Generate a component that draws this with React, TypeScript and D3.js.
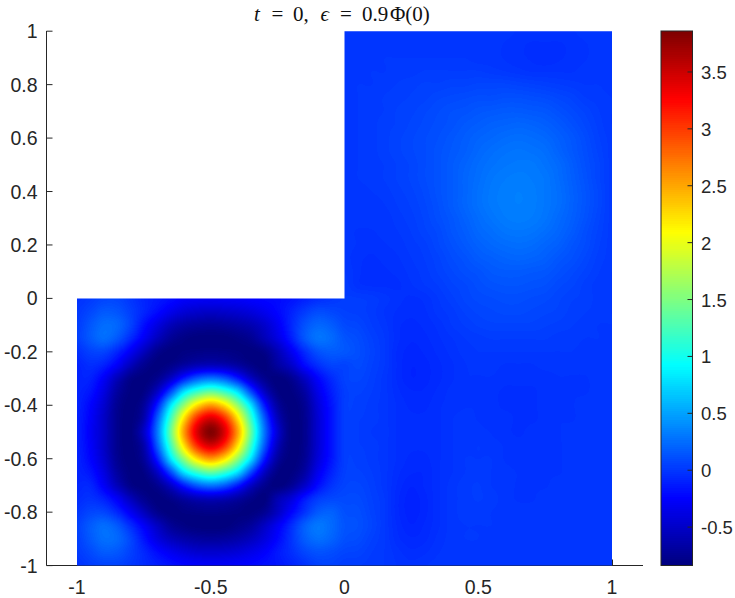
import React, { useMemo } from "react";
import * as d3 from "d3";

const xTicks = [-1, -0.5, 0, 0.5, 1];
const yTicks = [-1, -0.8, -0.6, -0.4, -0.2, 0, 0.2, 0.4, 0.6, 0.8, 1];
const colorTicks = [-0.5, 0, 0.5, 1, 1.5, 2, 2.5, 3, 3.5];
const colorDomain = [-0.833, 3.86];
const jetStops = ["#000080", "#0000ff", "#00ffff", "#ffff00", "#ff0000", "#800000"];
const jetPositions = [0, 0.125, 0.375, 0.625, 0.875, 1];

// y = 1 .. 0.05 (top to bottom), x = 0 .. 1 in steps of 0.05
const upperRightRows = [
  [0, 0, 0, 0, 0, 0, 0, 0, 0, 0, 0, 0, 0, -0.01, -0.01, -0.01, -0.01, -0.01, 0, 0, 0],
  [0, 0, 0, 0, 0, 0, 0, 0, 0, 0, 0, 0, -0.01, -0.02, -0.03, -0.03, -0.03, -0.02, -0.01, 0, 0],
  [0, 0, 0, 0.01, 0.01, 0.01, 0.01, 0.01, 0.01, 0.01, 0, 0, -0.01, -0.02, -0.03, -0.04, -0.03, -0.02, -0.01, 0, 0],
  [0, 0, 0.01, 0.01, 0.02, 0.02, 0.03, 0.03, 0.03, 0.03, 0.03, 0.02, 0.01, 0, -0.01, -0.01, -0.01, -0.01, 0, 0, 0],
  [0, 0.01, 0.01, 0.02, 0.03, 0.04, 0.05, 0.05, 0.06, 0.06, 0.07, 0.07, 0.07, 0.06, 0.05, 0.04, 0.03, 0.02, 0.01, 0.01, 0],
  [0, 0.01, 0.02, 0.03, 0.04, 0.05, 0.06, 0.08, 0.09, 0.1, 0.11, 0.11, 0.12, 0.12, 0.11, 0.1, 0.08, 0.06, 0.03, 0.02, 0.01],
  [0, 0.01, 0.02, 0.03, 0.05, 0.06, 0.08, 0.1, 0.12, 0.13, 0.15, 0.16, 0.17, 0.17, 0.16, 0.15, 0.12, 0.09, 0.06, 0.03, 0.01],
  [0, 0.01, 0.02, 0.04, 0.05, 0.07, 0.09, 0.11, 0.13, 0.16, 0.18, 0.2, 0.21, 0.22, 0.21, 0.19, 0.16, 0.12, 0.08, 0.04, 0.01],
  [0, 0.01, 0.02, 0.04, 0.06, 0.08, 0.1, 0.12, 0.15, 0.18, 0.21, 0.23, 0.25, 0.26, 0.25, 0.23, 0.19, 0.15, 0.1, 0.05, 0.02],
  [0, 0.01, 0.02, 0.04, 0.06, 0.08, 0.1, 0.13, 0.16, 0.19, 0.23, 0.26, 0.28, 0.29, 0.28, 0.26, 0.21, 0.16, 0.11, 0.06, 0.02],
  [0, 0.01, 0.02, 0.03, 0.05, 0.07, 0.1, 0.13, 0.17, 0.21, 0.25, 0.28, 0.3, 0.31, 0.31, 0.28, 0.24, 0.18, 0.12, 0.07, 0.02],
  [0, 0.01, 0.02, 0.03, 0.05, 0.07, 0.1, 0.13, 0.17, 0.22, 0.26, 0.3, 0.32, 0.33, 0.32, 0.3, 0.25, 0.19, 0.13, 0.07, 0.02],
  [0, 0, 0.01, 0.02, 0.04, 0.06, 0.09, 0.13, 0.17, 0.22, 0.27, 0.31, 0.33, 0.34, 0.33, 0.3, 0.26, 0.2, 0.14, 0.08, 0.02],
  [0, 0, 0, 0.01, 0.03, 0.05, 0.08, 0.12, 0.17, 0.22, 0.27, 0.31, 0.33, 0.34, 0.33, 0.3, 0.26, 0.2, 0.14, 0.08, 0.02],
  [0, 0, 0, 0, 0.02, 0.04, 0.07, 0.11, 0.15, 0.2, 0.25, 0.29, 0.32, 0.33, 0.32, 0.29, 0.24, 0.19, 0.13, 0.07, 0.02],
  [0, -0.01, -0.01, 0, 0.01, 0.03, 0.06, 0.09, 0.14, 0.18, 0.23, 0.26, 0.29, 0.3, 0.29, 0.26, 0.22, 0.17, 0.11, 0.06, 0.02],
  [0, -0.01, -0.02, -0.01, 0, 0.02, 0.04, 0.08, 0.12, 0.16, 0.2, 0.23, 0.25, 0.26, 0.25, 0.22, 0.19, 0.14, 0.1, 0.05, 0.02],
  [0, -0.02, -0.03, -0.02, -0.01, 0.01, 0.03, 0.06, 0.1, 0.13, 0.17, 0.19, 0.21, 0.22, 0.21, 0.19, 0.15, 0.12, 0.08, 0.04, 0.02],
  [0.01, -0.02, -0.04, -0.03, -0.02, 0, 0.02, 0.05, 0.08, 0.11, 0.13, 0.16, 0.17, 0.17, 0.16, 0.15, 0.12, 0.09, 0.06, 0.03, 0.01],
  [0.02, -0.02, -0.03, -0.03, -0.03, -0.01, 0.01, 0.03, 0.06, 0.08, 0.11, 0.13, 0.14, 0.14, 0.13, 0.12, 0.09, 0.07, 0.04, 0.02, 0.01],
];

// y = 0 .. -1, x = -1 .. 0 in steps of 0.05
const lowerLeftRows = [
  [-0.02, 0.02, 0.07, 0.07, 0, -0.08, -0.13, -0.19, -0.26, -0.28, -0.29, -0.28, -0.27, -0.24, -0.22, -0.2, -0.16, -0.1, -0.04, 0, 0.03],
  [0.01, 0.08, 0.16, 0.14, 0.04, -0.08, -0.2, -0.33, -0.43, -0.48, -0.5, -0.48, -0.45, -0.4, -0.32, -0.22, -0.1, 0.02, 0.1, 0.08, 0.05],
  [0.03, 0.15, 0.25, 0.22, 0.06, -0.18, -0.38, -0.56, -0.66, -0.7, -0.72, -0.7, -0.66, -0.6, -0.48, -0.3, -0.08, 0.12, 0.22, 0.18, 0.09],
  [0.04, 0.16, 0.25, 0.15, -0.06, -0.3, -0.54, -0.72, -0.8, -0.83, -0.83, -0.83, -0.8, -0.74, -0.58, -0.38, -0.13, 0.14, 0.28, 0.24, 0.14],
  [-0.03, 0.05, 0.06, -0.08, -0.3, -0.55, -0.76, -0.83, -0.81, -0.79, -0.78, -0.79, -0.81, -0.83, -0.78, -0.58, -0.32, -0.06, 0.12, 0.17, 0.15],
  [-0.09, -0.04, -0.1, -0.28, -0.55, -0.75, -0.83, -0.78, -0.67, -0.58, -0.55, -0.58, -0.67, -0.78, -0.83, -0.68, -0.5, -0.22, -0.04, 0.06, 0.06],
  [-0.09, -0.1, -0.28, -0.56, -0.78, -0.83, -0.75, -0.5, -0.12, 0.18, 0.3, 0.18, -0.12, -0.5, -0.75, -0.83, -0.75, -0.52, -0.24, -0.06, 0.05],
  [-0.09, -0.16, -0.38, -0.68, -0.82, -0.8, -0.5, 0.1, 0.8, 1.2, 1.4, 1.2, 0.8, 0.1, -0.5, -0.8, -0.82, -0.67, -0.35, -0.12, 0.03],
  [-0.09, -0.23, -0.46, -0.74, -0.83, -0.7, -0.12, 0.8, 1.6, 2.25, 2.55, 2.25, 1.6, 0.8, -0.12, -0.68, -0.83, -0.74, -0.42, -0.16, 0.03],
  [-0.1, -0.26, -0.5, -0.76, -0.83, -0.62, 0.18, 1.2, 2.25, 3.1, 3.45, 3.1, 2.25, 1.2, 0.18, -0.55, -0.82, -0.76, -0.45, -0.17, 0.03],
  [-0.1, -0.28, -0.5, -0.76, -0.83, -0.5, 0.3, 1.4, 2.55, 3.45, 3.85, 3.45, 2.55, 1.4, 0.3, -0.45, -0.82, -0.76, -0.45, -0.17, 0.03],
  [-0.1, -0.26, -0.5, -0.76, -0.83, -0.62, 0.18, 1.2, 2.25, 3.1, 3.45, 3.1, 2.25, 1.2, 0.18, -0.55, -0.82, -0.76, -0.45, -0.17, 0.03],
  [-0.09, -0.23, -0.46, -0.74, -0.83, -0.7, -0.12, 0.8, 1.6, 2.25, 2.55, 2.25, 1.6, 0.8, -0.12, -0.68, -0.83, -0.74, -0.42, -0.16, 0.03],
  [-0.09, -0.16, -0.38, -0.68, -0.82, -0.8, -0.5, 0.1, 0.8, 1.2, 1.4, 1.2, 0.8, 0.1, -0.5, -0.8, -0.82, -0.67, -0.33, -0.1, 0.04],
  [-0.08, -0.08, -0.28, -0.56, -0.78, -0.83, -0.75, -0.5, -0.12, 0.18, 0.3, 0.18, -0.12, -0.5, -0.75, -0.83, -0.73, -0.5, -0.2, -0.02, 0.06],
  [-0.05, -0.02, -0.1, -0.28, -0.55, -0.75, -0.83, -0.78, -0.67, -0.58, -0.55, -0.58, -0.67, -0.78, -0.83, -0.6, -0.42, -0.15, 0.02, 0.08, 0.09],
  [0, 0.07, 0.07, -0.07, -0.3, -0.55, -0.76, -0.83, -0.81, -0.79, -0.78, -0.79, -0.81, -0.82, -0.74, -0.52, -0.25, -0.02, 0.16, 0.2, 0.12],
  [0.05, 0.17, 0.25, 0.16, -0.05, -0.28, -0.52, -0.72, -0.8, -0.83, -0.83, -0.83, -0.78, -0.7, -0.52, -0.3, -0.06, 0.18, 0.3, 0.24, 0.14],
  [0.04, 0.16, 0.26, 0.23, 0.07, -0.16, -0.38, -0.54, -0.63, -0.68, -0.7, -0.68, -0.63, -0.54, -0.4, -0.22, -0.02, 0.17, 0.26, 0.21, 0.12],
  [0.02, 0.09, 0.17, 0.15, 0.05, -0.07, -0.2, -0.31, -0.4, -0.46, -0.47, -0.46, -0.42, -0.35, -0.26, -0.14, -0.04, 0.07, 0.13, 0.11, 0.07],
  [-0.02, 0.03, 0.06, 0.06, 0.01, -0.05, -0.11, -0.17, -0.22, -0.25, -0.27, -0.27, -0.25, -0.22, -0.18, -0.15, -0.09, -0.02, 0.05, 0.06, 0.03],
];

// y = 0 .. -1, x = 0.05 .. 1 in steps of 0.05
const lowerRightRows = [
  [0.03, 0.02, 0, -0.02, -0.03, -0.02, 0.01, 0.04, 0.07, 0.09, 0.1, 0.11, 0.11, 0.1, 0.09, 0.07, 0.05, 0.04, 0.02, 0.01],
  [0.04, 0.02, -0.01, -0.03, -0.04, -0.03, 0, 0.02, 0.05, 0.07, 0.08, 0.09, 0.09, 0.08, 0.07, 0.06, 0.04, 0.03, 0.02, 0.01],
  [0.07, 0.03, 0, -0.04, -0.05, -0.04, -0.02, 0.01, 0.03, 0.05, 0.06, 0.06, 0.06, 0.06, 0.05, 0.04, 0.03, 0.02, 0.01, 0.01],
  [0.1, 0.05, 0.01, -0.04, -0.06, -0.05, -0.03, -0.01, 0.01, 0.02, 0.03, 0.03, 0.03, 0.03, 0.03, 0.02, 0.02, 0.01, 0.01, 0],
  [0.11, 0.06, 0.01, -0.05, -0.07, -0.06, -0.04, -0.02, 0, 0.01, 0.01, 0.01, 0.01, 0.01, 0.01, 0.01, 0.01, 0, 0, 0],
  [0.09, 0.05, 0.01, -0.05, -0.08, -0.07, -0.05, -0.03, -0.01, 0, 0, -0.01, -0.01, -0.01, 0, 0, 0, 0, 0, 0],
  [0.07, 0.04, 0, -0.05, -0.08, -0.07, -0.05, -0.03, -0.01, -0.01, -0.01, -0.02, -0.02, -0.02, -0.02, -0.01, -0.01, -0.01, 0, 0],
  [0.05, 0.03, 0, -0.04, -0.06, -0.06, -0.04, -0.02, -0.01, -0.01, -0.02, -0.03, -0.03, -0.03, -0.02, -0.02, -0.01, -0.01, 0, 0],
  [0.04, 0.02, 0, -0.03, -0.05, -0.05, -0.03, -0.02, -0.01, -0.01, -0.02, -0.03, -0.03, -0.03, -0.02, -0.02, -0.01, 0, 0, 0],
  [0.03, 0.02, 0, -0.03, -0.04, -0.04, -0.03, -0.01, 0, -0.01, -0.02, -0.02, -0.03, -0.03, -0.02, -0.01, -0.01, 0, 0, 0],
  [0.03, 0.01, 0, -0.03, -0.04, -0.04, -0.03, -0.01, 0, 0, -0.01, -0.02, -0.03, -0.02, -0.02, -0.01, 0, 0, 0, 0],
  [0.03, 0.02, 0, -0.03, -0.04, -0.04, -0.03, -0.01, 0, 0.01, 0, -0.01, -0.02, -0.02, -0.01, -0.01, 0, 0, 0, 0],
  [0.04, 0.02, 0, -0.03, -0.05, -0.05, -0.03, -0.01, 0.01, 0.01, 0.01, -0.01, -0.02, -0.02, -0.01, -0.01, 0, 0, 0, 0],
  [0.05, 0.03, 0, -0.04, -0.06, -0.06, -0.03, -0.01, 0.01, 0.02, 0.01, 0, -0.01, -0.02, -0.01, -0.01, 0, 0, 0, 0],
  [0.07, 0.04, 0, -0.05, -0.08, -0.06, -0.03, 0, 0.02, 0.03, 0.01, 0, -0.01, -0.01, -0.01, 0, 0, 0, 0, 0],
  [0.09, 0.05, 0.01, -0.06, -0.09, -0.07, -0.03, 0, 0.02, 0.03, 0.02, 0, -0.01, -0.01, 0, 0, 0, 0, 0, 0],
  [0.11, 0.06, 0.01, -0.06, -0.09, -0.07, -0.03, 0, 0.02, 0.02, 0.01, 0, 0, 0, 0, 0, 0, 0, 0, 0],
  [0.12, 0.07, 0.01, -0.05, -0.08, -0.06, -0.03, 0, 0.01, 0.01, 0.01, 0, 0, 0, 0, 0, 0, 0, 0, 0],
  [0.1, 0.05, 0.01, -0.04, -0.06, -0.05, -0.02, 0, 0.01, 0.01, 0, 0, 0, 0, 0, 0, 0, 0, 0, 0],
  [0.06, 0.03, 0.01, -0.02, -0.04, -0.03, -0.01, 0, 0, 0, 0, 0, 0, 0, 0, 0, 0, 0, 0, 0],
  [0.03, 0.02, 0.01, -0.01, -0.02, -0.01, 0, 0, 0, 0, 0, 0, 0, 0, 0, 0, 0, 0, 0, 0],
];

const WIDTH = 735;
const HEIGHT = 598;
const INK = "#262626";
const FONT = "'Liberation Sans', Arial, sans-serif";

const xScale = d3.scaleLinear().domain([-1, 1]).range([77, 612]);
const yScale = d3.scaleLinear().domain([1, -1]).range([31.2, 565.6]);
const barScale = d3.scaleLinear().domain(colorDomain).range([565, 31]);
const fractionScale = d3.scaleLinear().domain(colorDomain).range([0, 1]).clamp(true);
const jet = d3.scaleLinear<string>().domain(jetPositions).range(jetStops).interpolate(d3.interpolateRgb);
const palette = d3.range(256).map((i) => jet(i / 255));
const paletteRgb = palette.map((c) => d3.rgb(c));

const colorIndex = (v: number) => Math.min(255, Math.floor(fractionScale(v) * 256));

// The value at a grid node. Nodes in the missing quadrant borrow the nearest node
// on the domain edge so that the shading stays smooth right up to that edge.
function node(col: number, row: number): number {
  const c = Math.max(0, Math.min(40, col));
  const r = Math.max(0, Math.min(40, row));
  if (r < 20) {
    if (c >= 20) return upperRightRows[r][c - 20];
    return 20 - c < 20 - r ? upperRightRows[r][0] : lowerLeftRows[0][c];
  }
  if (c <= 20) return lowerLeftRows[r - 20][c];
  return lowerRightRows[r - 20][c - 21];
}

const catmull = (a: number, b: number, c: number, d: number, t: number) =>
  b + 0.5 * t * (c - a + t * (2 * a - 5 * b + 4 * c - d + t * (3 * (b - c) + d - a)));

function shade(u: number, v: number): number {
  const c0 = Math.floor(u);
  const r0 = Math.floor(v);
  const tu = u - c0;
  const tv = v - r0;
  const rows = [-1, 0, 1, 2].map((dr) =>
    catmull(
      node(c0 - 1, r0 + dr),
      node(c0, r0 + dr),
      node(c0 + 1, r0 + dr),
      node(c0 + 2, r0 + dr),
      tu
    )
  );
  return catmull(rows[0], rows[1], rows[2], rows[3], tv);
}

function renderField(): { href: string; x: number; y: number; w: number; h: number } {
  const x0 = 77;
  const y0 = 31;
  const w = 535;
  const h = 535;
  const canvas = document.createElement("canvas");
  canvas.width = w;
  canvas.height = h;
  const ctx = canvas.getContext("2d")!;
  const img = ctx.createImageData(w, h);
  for (let py = 0; py < h; py++) {
    const dataY = yScale.invert(y0 + py + 0.5);
    const v = (1 - dataY) / 0.05;
    for (let px = 0; px < w; px++) {
      const dataX = xScale.invert(x0 + px + 0.5);
      const u = (dataX + 1) / 0.05;
      const col = paletteRgb[colorIndex(shade(u, v))];
      const k = (py * w + px) * 4;
      img.data[k] = col.r;
      img.data[k + 1] = col.g;
      img.data[k + 2] = col.b;
      img.data[k + 3] = 255;
    }
  }
  ctx.putImageData(img, 0, 0);
  return { href: canvas.toDataURL("image/png"), x: x0, y: y0, w, h };
}

export default function App() {
  const field = useMemo(renderField, []);
  const lShape = [
    [xScale(-1), yScale(0)],
    [xScale(0), yScale(0)],
    [xScale(0), yScale(1)],
    [xScale(1), yScale(1)],
    [xScale(1), yScale(-1)],
    [xScale(-1), yScale(-1)],
  ]
    .map((p) => p.join(","))
    .join(" ");
  const axisLeft = 46.5;
  const axisRight = 643;
  const axisBottom = 565.5;
  const barLeft = 661;
  const barRight = 692.5;
  const levels = d3.range(256);
  const fmt = (t: number) => String(t);

  return (
    <svg
      width={WIDTH}
      height={HEIGHT}
      viewBox={`0 0 ${WIDTH} ${HEIGHT}`}
      style={{ position: "absolute", left: 0, top: 0, background: "#fff" }}
    >
      <defs>
        <clipPath id="domain">
          <polygon points={lShape} />
        </clipPath>
      </defs>

      <line x1={axisLeft} x2={axisLeft} y1={31} y2={axisBottom} stroke={INK} />
      <line x1={axisLeft} x2={axisRight} y1={axisBottom} y2={axisBottom} stroke={INK} />
      {yTicks.map((t) => (
        <g key={t}>
          <line x1={axisLeft} x2={axisLeft + 6} y1={yScale(t)} y2={yScale(t)} stroke={INK} />
          <text x={37.5} y={yScale(t) + 7} textAnchor="end" fontFamily={FONT} fontSize={19.5} fill={INK}>
            {fmt(t)}
          </text>
        </g>
      ))}
      {xTicks.map((t) => (
        <g key={t}>
          <line x1={xScale(t) + 0.5} x2={xScale(t) + 0.5} y1={axisBottom} y2={axisBottom - 6} stroke={INK} />
          <text x={xScale(t)} y={594} textAnchor="middle" fontFamily={FONT} fontSize={19.5} fill={INK}>
            {fmt(t)}
          </text>
        </g>
      ))}

      <image
        href={field.href}
        x={field.x}
        y={field.y}
        width={field.w}
        height={field.h}
        clipPath="url(#domain)"
      />

      <g shapeRendering="crispEdges">
        {levels.map((i) => {
          const lo = colorDomain[0] + ((colorDomain[1] - colorDomain[0]) * i) / 256;
          const hi = colorDomain[0] + ((colorDomain[1] - colorDomain[0]) * (i + 1)) / 256;
          return (
            <rect
              key={i}
              x={barLeft}
              width={barRight - barLeft}
              y={barScale(hi)}
              height={barScale(lo) - barScale(hi) + 0.6}
              fill={palette[i]}
            />
          );
        })}
      </g>
      <rect x={barLeft} y={31} width={barRight - barLeft} height={534.5} fill="none" stroke={INK} />
      {colorTicks.map((t) => (
        <g key={t}>
          <line x1={barRight - 5} x2={barRight} y1={barScale(t)} y2={barScale(t)} stroke={INK} />
          <text x={701} y={barScale(t) + 7} fontFamily={FONT} fontSize={18.5} fill={INK}>
            {fmt(t)}
          </text>
        </g>
      ))}

      <g fontFamily="'Liberation Serif', serif" fontSize={21} fill="#111">
        <text x={254} y={20.5} fontStyle="italic">t</text>
        <text x={271.5} y={20.5}>=</text>
        <text x={293} y={20.5}>0,</text>
        <text x={320.5} y={20.5} fontStyle="italic">ϵ</text>
        <text x={340} y={20.5}>=</text>
        <text x={362} y={20.5}>0.9</text>
        <text x={390} y={20.5}>Φ(0)</text>
      </g>
    </svg>
  );
}
